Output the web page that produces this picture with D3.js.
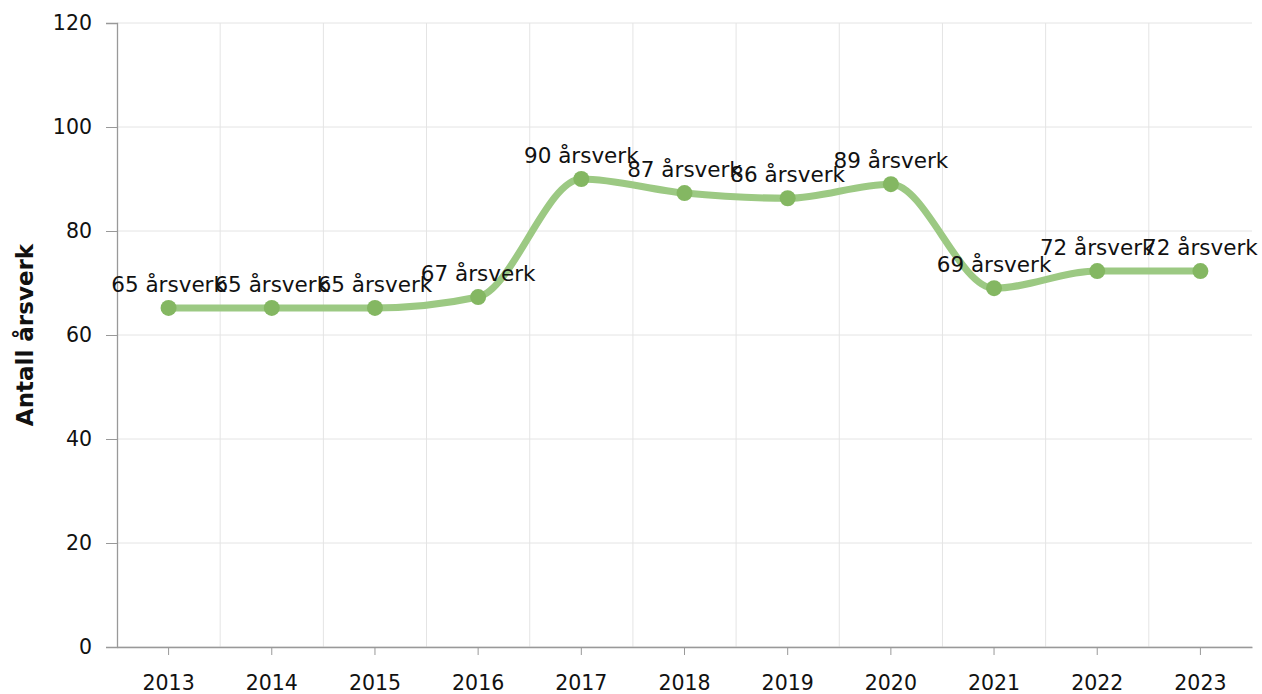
<!DOCTYPE html>
<html>
<head>
<meta charset="utf-8">
<script src="https://cdn.jsdelivr.net/npm/d3@7"></script>
<style>
  body { margin: 0; background: #fff; }
  text { font-family: "DejaVu Sans", Verdana, sans-serif; fill: #111; }
</style>
</head>
<body>
<div class="visual"></div>
<script>
const width = 1262;
const height = 694;

// data
const years = ["2013", "2014", "2015", "2016", "2017", "2018", "2019", "2020", "2021", "2022", "2023"];
const values = [65.2, 65.2, 65.2, 67.3, 90, 87.3, 86.3, 89, 69, 72.3, 72.3];
const labels = ["65 årsverk", "65 årsverk", "65 årsverk", "67 årsverk", "90 årsverk", "87 årsverk",
  "86 årsverk", "89 årsverk", "69 årsverk", "72 årsverk", "72 årsverk"];
const yTicks = [0, 20, 40, 60, 80, 100, 120];

const margin = { top: 23, right: 10, bottom: 47, left: 117 };

const svg = d3
  .select(".visual")
  .append("svg")
  .attr("width", width)
  .attr("height", height);

const x = d3
  .scaleBand()
  .domain(years)
  .range([margin.left, width - margin.right])
  .padding(0);

const y = d3
  .scaleLinear()
  .domain([0, 120])
  .range([height - margin.bottom, margin.top]);

// horizontal grid
svg
  .append("g")
  .selectAll("line")
  .data(yTicks)
  .enter()
  .append("line")
  .attr("x1", margin.left)
  .attr("x2", width - margin.right)
  .attr("y1", (d) => y(d))
  .attr("y2", (d) => y(d))
  .attr("stroke", "#e4e4e4")
  .attr("stroke-width", 1);

// vertical grid at band edges
svg
  .append("g")
  .selectAll("line")
  .data(years.slice(1))
  .enter()
  .append("line")
  .attr("x1", (d) => x(d))
  .attr("x2", (d) => x(d))
  .attr("y1", y(120))
  .attr("y2", y(0))
  .attr("stroke", "#e4e4e4")
  .attr("stroke-width", 1);

// y axis
const yAxis = svg
  .append("g")
  .attr("transform", `translate(${margin.left},0)`)
  .call(d3.axisLeft(y).tickValues(yTicks).tickSize(11).tickPadding(14));
yAxis.select(".domain").attr("stroke", "#999").attr("stroke-width", 1.3);
yAxis.selectAll(".tick line").attr("stroke", "#999");
yAxis.selectAll("text").style("font-size", "20.5px").attr("fill", "#111")
  .style("font-family", '"DejaVu Sans", Verdana, sans-serif');

// x axis
const xAxis = svg
  .append("g")
  .attr("transform", `translate(0,${y(0)})`)
  .call(d3.axisBottom(x).tickSizeInner(8).tickSizeOuter(0).tickPadding(20));
xAxis.select(".domain").attr("stroke", "#999").attr("stroke-width", 1.3);
xAxis.selectAll(".tick line").attr("stroke", "#999");
xAxis.selectAll("text").style("font-size", "20.5px").attr("fill", "#111")
  .style("font-family", '"DejaVu Sans", Verdana, sans-serif');

// y label
svg
  .append("text")
  .attr("transform", `translate(33,${(y(0) + y(120)) / 2}) rotate(-90)`)
  .attr("text-anchor", "middle")
  .style("font-size", "23px")
  .style("font-weight", "bold")
  .text("Antall årsverk");

const cx = (d, i) => x(years[i]) + x.bandwidth() / 2;

// line
const line = d3
  .line()
  .x((d, i) => cx(d, i))
  .y((d) => y(d))
  .curve(d3.curveMonotoneX);

svg
  .append("path")
  .datum(values)
  .attr("d", line)
  .attr("fill", "none")
  .attr("stroke", "#9cc983")
  .attr("stroke-width", 7);

// points
svg
  .append("g")
  .selectAll("circle")
  .data(values)
  .enter()
  .append("circle")
  .attr("cx", cx)
  .attr("cy", (d) => y(d))
  .attr("r", 8)
  .attr("fill", "#84b762");

// value labels
svg
  .append("g")
  .selectAll("text")
  .data(values)
  .enter()
  .append("text")
  .attr("x", cx)
  .attr("y", (d) => y(d) - 16)
  .attr("text-anchor", "middle")
  .style("font-size", "21.5px")
  .text((d, i) => labels[i]);
</script>
</body>
</html>
